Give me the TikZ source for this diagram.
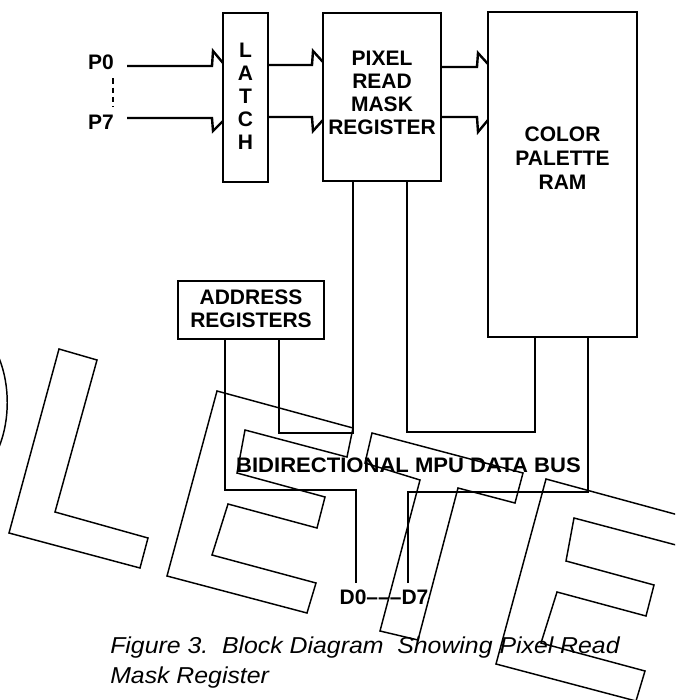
\documentclass[tikz,border=0pt]{standalone}
\usepackage{fontspec}
\usepackage{graphicx}
\setmainfont{Liberation Sans}
\usetikzlibrary{calc}
\newlength\upx
\setlength\upx{0.75pt}
\begin{document}
\begin{tikzpicture}[x=0.75pt,y=-0.75pt,
  box/.style={draw,line width=2.1pt,inner sep=0pt,outer sep=0pt},
  lbl/.style={font=\fontsize{15.75}{17.25}\selectfont\bfseries,align=center,inner sep=0pt},
  capt/.style={font=\fontsize{17.25}{20}\selectfont\itshape,inner sep=0pt,anchor=base west},
  wire/.style={line width=1.8pt},
  stamp/.style={line width=1.1pt,line join=miter},
  stampE/.pic={\draw[stamp] (0,0) -- (136,37) -- (130,66) -- (28,39) -- (20,82) -- (108,106) -- (100,137) -- (11,113) -- (-5,164) -- (99,192) -- (90,222) -- (-50,185) -- cycle;}
]
\fill[white] (0,0) rectangle (675,700);
\useasboundingbox (0,0) rectangle (675,700);
\clip (0,0) rectangle (675,700);

% boxes
\node[box,minimum width=45\upx,minimum height=169\upx] (latch) at (245.5,97.5) {};
\node[box,minimum width=118\upx,minimum height=168\upx] (prmr) at (382,97) {};
\node[box,minimum width=149\upx,minimum height=325\upx] (cpr) at (562.5,174.5) {};
\node[box,minimum width=146\upx,minimum height=58\upx] (addr) at (251,310) {};

% labels
\node[lbl] (latchT) at (245.5,96) {L\\A\\T\\C\\H};
\node[lbl] (prmrT) at (382,92.5) {PIXEL\\READ\\MASK\\REGISTER};
\node[lbl,font=\fontsize{15.75}{18}\selectfont\bfseries] (cprT) at (562.5,158) {COLOR\\PALETTE\\RAM};
\node[lbl] (addrT) at (251,308.5) {ADDRESS\\REGISTERS};
\node[lbl] (busT) at (408.5,465) {\scalebox{1.05}[1]{BIDIRECTIONAL MPU DATA BUS}};
\node[lbl] (dT) at (384,597) {D0–––D7};
\node[lbl] (p0) at (101,62.5) {P0};
\node[lbl] (p7) at (101,122.5) {P7};

% inputs
\coordinate (p0s) at (127,66);
\coordinate (p7s) at (127,118);
\draw[wire] (p0s) -- (212,66) -- (213,51) -- (latch.west |- 0,63);
\draw[wire] (p7s) -- (212,118) -- (213,131) -- (latch.west |- 0,121);
\draw[line width=0.9pt,dash pattern=on 4pt off 3pt,shorten <=6pt,shorten >=6pt] (p0.south -| 113,0) -- (p7.north -| 113,0);

% latch -> mask register
\draw[wire] (latch.east |- 0,65) -- (312,65) -- (313,51) -- (prmr.west |- 0,62);
\draw[wire] (latch.east |- 0,117) -- (312,117) -- (313,131) -- (prmr.west |- 0,120);

% mask register -> palette
\draw[wire] (prmr.east |- 0,67) -- (477,67) -- (478,53) -- (cpr.west |- 0,64);
\draw[wire] (prmr.east |- 0,117) -- (477,117) -- (478,132) -- (cpr.west |- 0,120);

% data bus
\coordinate (d0) at (356,583);
\coordinate (d7) at (408,583);
\draw[wire] (addr.south -| 225,0) -- (225,490) -- (356,490) -- (d0);
\draw[wire] (d7) -- (408,492) -- (588,492) -- (cpr.south -| 588,0);
\draw[wire] (addr.south -| 279,0) -- (279,433) -- (353,433) -- (prmr.south -| 353,0);
\draw[wire] (prmr.south -| 407,0) -- (407,432) -- (535,432) -- (cpr.south -| 535,0);

% caption
\node[capt] (cap1) at (110,653) {\scalebox{1.08}[1]{Figure 3.\ \ Block Diagram\ \ Showing Pixel Read}};
\node[capt] (cap2) at (110,683) {\scalebox{1.08}[1]{Mask Register}};

% OBSOLETE stamp (outlined letters)
\draw[stamp] (-1,358) .. controls (10,385) and (10,420) .. (-1,447);
\draw[stamp] (59,349) -- (97,360) -- (55,512) -- (148,538) -- (140,568) -- (9,533) -- cycle;
\pic at (217,391) {stampE};
\draw[stamp] (372,433) -- (523,473) -- (515,503) -- (458,488) -- (418,640) -- (380,631) -- (420,480) -- (365,463) -- cycle;
\pic at (546,479) {stampE};
\end{tikzpicture}
\end{document}
